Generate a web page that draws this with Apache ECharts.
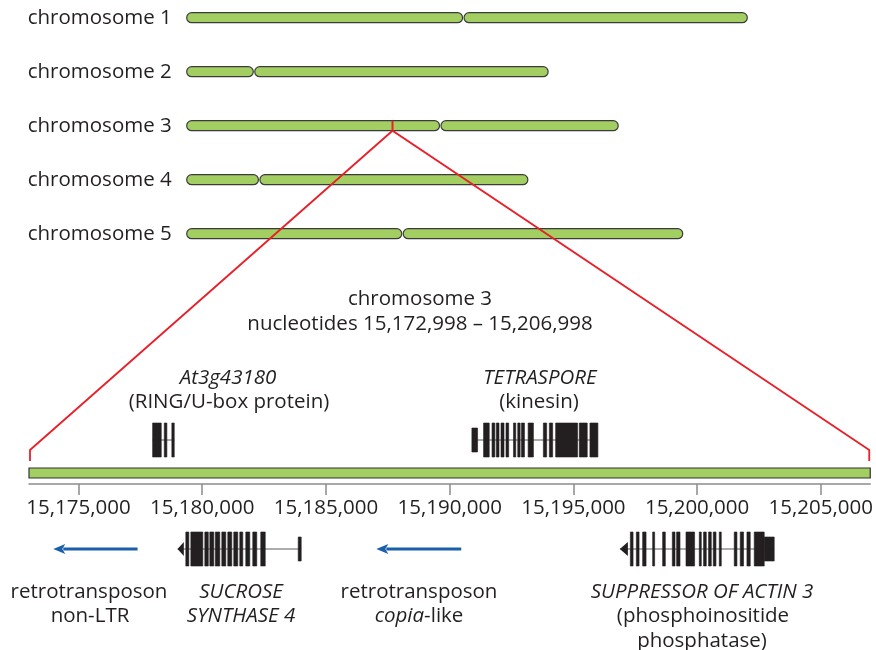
<!DOCTYPE html>
<html lang="en">
<head>
<meta charset="UTF-8">
<title>chromosome 3 region</title>
<script src="https://cdn.jsdelivr.net/npm/echarts@6/dist/echarts.min.js"></script>
<style>
  html, body { margin: 0; padding: 0; background: #fff; }
  #main { width: 876px; height: 650px; }
</style>
</head>
<body>
<div id="main"></div>
<script>
  // chromosomes, Mb
  var chromNames = ['chromosome 1', 'chromosome 2', 'chromosome 3', 'chromosome 4', 'chromosome 5'];
  var chromLength = [30.4, 19.6, 23.4, 18.5, 26.9];
  var centromere = [15.0, 3.65, 13.75, 3.93, 11.7];
  var markerChrom = 2;
  var markerPos = 11.16;

  // zoomed region, bp
  var regionStart = 15172998;
  var regionEnd = 15206998;
  var tickValues = [15175000, 15180000, 15185000, 15190000, 15195000, 15200000, 15205000];

  // gene models above the axis
  var at3g43180Exons = [[15177994, 15178344], [15178465, 15178570], [15178771, 15178868]];
  var tetrasporeUtr = [[15190898, 15191128]];
  var tetrasporeExons = [[15191370, 15191599], [15191712, 15191825], [15191886, 15191994], [15192075, 15192196],
    [15192276, 15192385], [15192579, 15192671], [15192752, 15192848], [15192901, 15193022], [15193171, 15193384],
    [15193787, 15193920], [15194029, 15194162], [15194283, 15195169], [15195238, 15195560], [15195669, 15195991]];

  // gene models below the axis
  var sus4Tip = [[15178989, 15179243]];
  var sus4Exons = [[15179323, 15179444], [15179525, 15180008], [15180089, 15180230], [15180290, 15180451],
    [15180512, 15180693], [15180774, 15180935], [15181015, 15181176], [15181257, 15181418], [15181499, 15181620],
    [15181741, 15181902], [15182023, 15182184], [15182345, 15182526]];
  var sus4Utr = [[15183856, 15183977]];
  var sac3Tip = [[15196829, 15197151]];
  var sac3Exons = [[15197252, 15197361], [15197494, 15197603], [15197748, 15197885], [15198151, 15198231],
    [15198554, 15198662], [15198944, 15199053], [15199118, 15199255], [15199496, 15199843], [15200032, 15200113],
    [15200205, 15200314], [15200407, 15200516], [15200596, 15200705], [15200838, 15200919], [15201442, 15201551],
    [15201684, 15201817], [15201954, 15202087], [15202248, 15202651]];
  var sac3Utr = [[15202651, 15203054]];

  // retrotransposons: [tail, head]
  var retroArrows = [[15177377, 15173977], [15190431, 15187006]];

  var GREEN = '#a3cf62';
  var INK = '#231f20';
  var FONT = 'Open Sans';
  var FS = 20.5;
  var TOP_Y = 44, BAR_Y = 11, LOW_Y = 31;

  var chart = echarts.init(document.getElementById('main'));

  var armData = [];
  for (var i = 0; i < chromNames.length; i++) {
    armData.push([0, centromere[i] - 0.04, i]);
    armData.push([centromere[i] + 0.04, chromLength[i], i]);
  }

  function feats(list, y, kind, out) {
    list.forEach(function (e) { out.push([e[0], e[1], y, kind]); });
  }
  function gene(parts, y, out) {
    var lo = Infinity, hi = -Infinity;
    parts.forEach(function (p) {
      p[0].forEach(function (e) { lo = Math.min(lo, e[0]); hi = Math.max(hi, e[1]); });
    });
    out.push([lo, hi, y, 0]);
    parts.forEach(function (p) { feats(p[0], y, p[1], out); });
  }

  var topFeatures = [];
  gene([[at3g43180Exons, 1]], TOP_Y, topFeatures);
  gene([[tetrasporeUtr, 2], [tetrasporeExons, 1]], TOP_Y, topFeatures);
  var lowFeatures = [];
  gene([[sus4Tip, 3], [sus4Exons, 1], [sus4Utr, 2]], LOW_Y, lowFeatures);
  gene([[sac3Tip, 3], [sac3Exons, 1], [sac3Utr, 2]], LOW_Y, lowFeatures);

  function renderArm(params, api) {
    var a = api.coord([api.value(0), api.value(2)]);
    var b = api.coord([api.value(1), api.value(2)]);
    var h = 10;
    return {
      type: 'rect',
      shape: { x: a[0], y: a[1] - h / 2, width: b[0] - a[0], height: h, r: h / 2 },
      style: { fill: GREEN, stroke: '#3b3b3b', lineWidth: 1.2 }
    };
  }

  function renderBar(params, api) {
    var a = api.coord([api.value(0), api.value(2)]);
    var b = api.coord([api.value(1), api.value(2)]);
    var h = 10;
    return {
      type: 'rect',
      shape: { x: a[0], y: a[1] - h / 2, width: b[0] - a[0], height: h },
      style: { fill: GREEN, stroke: '#333', lineWidth: 1.2 }
    };
  }

  function renderFeature(params, api) {
    var kind = api.value(3);
    var y = api.value(2);
    var a = api.coord([api.value(0), y]);
    var b = api.coord([api.value(1), y]);
    var x0 = Math.min(a[0], b[0]), x1 = Math.max(a[0], b[0]), yc = a[1];
    if (kind === 0) {
      return { type: 'line', shape: { x1: x0, y1: yc, x2: x1, y2: yc }, style: { stroke: '#5a5a5a', lineWidth: 1 } };
    }
    if (kind === 3) {
      return { type: 'polygon', shape: { points: [[x0, yc], [x1, yc - 7], [x1, yc + 7]] }, style: { fill: INK } };
    }
    var h = kind === 1 ? 34 : 24;
    return {
      type: 'rect',
      shape: { x: x0, y: yc - h / 2, width: Math.max(x1 - x0, 1.6), height: h },
      style: { fill: INK, stroke: INK, lineWidth: 0.6 }
    };
  }

  function renderArrow(params, api) {
    var y = api.value(2);
    var tail = api.coord([api.value(0), y]);
    var head = api.coord([api.value(1), y]);
    var len = 12, hw = 5;
    return {
      type: 'group',
      children: [
        { type: 'line', shape: { x1: tail[0], y1: tail[1], x2: head[0] + len - 2, y2: head[1] },
          style: { stroke: '#1a5faa', lineWidth: 3 } },
        { type: 'polygon', shape: { points: [[head[0], head[1]], [head[0] + len, head[1] - hw], [head[0] + len - 3, head[1]], [head[0] + len, head[1] + hw]] },
          style: { fill: '#1a5faa' } }
      ]
    };
  }

  function commas(v) {
    return String(v).replace(/\B(?=(\d{3})+(?!\d))/g, ',');
  }

  var option = {
    animation: false,
    grid: [
      { left: 186.7, top: 17.7, width: 560.6, height: 216 },
      { left: 29, top: 400, width: 843, height: 84 },
      { left: 29, top: 520, width: 843, height: 60 }
    ],
    xAxis: [
      { gridIndex: 0, type: 'value', min: 0, max: 30.4, show: false },
      {
        gridIndex: 1, type: 'value', min: regionStart, max: regionEnd, position: 'bottom',
        splitLine: { show: false },
        axisLine: { show: true, lineStyle: { color: '#8c8c8c', width: 1.5 } },
        axisTick: { show: true, customValues: tickValues, length: 11, lineStyle: { color: '#8c8c8c', width: 1.5 } },
        axisLabel: { customValues: tickValues, formatter: commas, fontSize: FS, fontFamily: FONT, color: INK, margin: 14 }
      },
      { gridIndex: 2, type: 'value', min: regionStart, max: regionEnd, show: false }
    ],
    yAxis: [
      {
        gridIndex: 0, type: 'category', data: chromNames, inverse: true, boundaryGap: false,
        axisLine: { show: false }, axisTick: { show: false }, splitLine: { show: false },
        axisLabel: { align: 'left', margin: 159, fontSize: FS, fontFamily: FONT, color: INK }
      },
      { gridIndex: 1, type: 'value', min: 0, max: 84, show: false },
      { gridIndex: 2, type: 'value', min: 0, max: 60, show: false }
    ],
    series: [
      { type: 'custom', xAxisIndex: 0, yAxisIndex: 0, renderItem: renderArm, data: armData, encode: { x: [0, 1], y: 2 } },
      { type: 'custom', xAxisIndex: 1, yAxisIndex: 1, renderItem: renderBar, data: [[regionStart, regionEnd, BAR_Y]], encode: { x: [0, 1], y: 2 } },
      { type: 'custom', xAxisIndex: 1, yAxisIndex: 1, renderItem: renderFeature, data: topFeatures, encode: { x: [0, 1], y: 2 } },
      { type: 'custom', xAxisIndex: 2, yAxisIndex: 2, renderItem: renderFeature, data: lowFeatures, encode: { x: [0, 1], y: 2 } },
      { type: 'custom', xAxisIndex: 2, yAxisIndex: 2, renderItem: renderArrow,
        data: retroArrows.map(function (r) { return [r[0], r[1], LOW_Y]; }), encode: { x: [0, 1], y: 2 } }
    ]
  };
  chart.setOption(option);

  // zoom lines from the chromosome 3 marker to the region ends
  var apex = chart.convertToPixel({ gridIndex: 0 }, [markerPos, markerChrom]);
  var lTop = chart.convertToPixel({ gridIndex: 1 }, [regionStart, 34]);
  var lLow = chart.convertToPixel({ gridIndex: 1 }, [regionStart, 23]);
  var rTop = chart.convertToPixel({ gridIndex: 1 }, [regionEnd, 34]);
  var rLow = chart.convertToPixel({ gridIndex: 1 }, [regionEnd, 23]);
  lTop[0] += 1; lLow[0] += 1; rTop[0] -= 1; rLow[0] -= 1;
  var apexLow = [apex[0], apex[1] + 5];

  function txt(x, y, text, italic, rich) {
    return {
      type: 'text', x: x, y: y, z: 50,
      style: {
        text: text, fill: INK, fontSize: FS, fontFamily: FONT, fontStyle: italic ? 'italic' : 'normal',
        align: 'center', verticalAlign: 'middle', rich: rich
      }
    };
  }
  var italicRich = { i: { fontStyle: 'italic', fontSize: FS, fontFamily: FONT, fill: INK } };

  chart.setOption({
    graphic: [
      { type: 'polyline', z: 100, shape: { points: [lLow, lTop, apexLow, rTop, rLow] },
        style: { stroke: '#e8202a', lineWidth: 1.8, fill: null } },
      { type: 'line', z: 100, shape: { x1: apex[0], y1: apex[1] - 5, x2: apexLow[0], y2: apexLow[1] },
        style: { stroke: '#e8202a', lineWidth: 2 } },
      txt(420, 299, 'chromosome 3'),
      txt(420, 324, 'nucleotides 15,172,998 \u2013 15,206,998'),
      txt(228, 378, 'At3g43180', true),
      txt(229, 402, '(RING/U-box protein)'),
      txt(540, 378, 'TETRASPORE', true),
      txt(539, 402, '(kinesin)'),
      txt(89, 592, 'retrotransposon'),
      txt(90, 616, 'non-LTR'),
      txt(241, 592, 'SUCROSE', true),
      txt(241, 616, 'SYNTHASE 4', true),
      txt(419, 592, 'retrotransposon'),
      txt(419, 616, '{i|copia}-like', false, italicRich),
      txt(702, 592, 'SUPPRESSOR OF ACTIN 3', true),
      txt(703, 616, '(phosphoinositide'),
      txt(702, 641, 'phosphatase)')
    ]
  });
</script>
</body>
</html>
